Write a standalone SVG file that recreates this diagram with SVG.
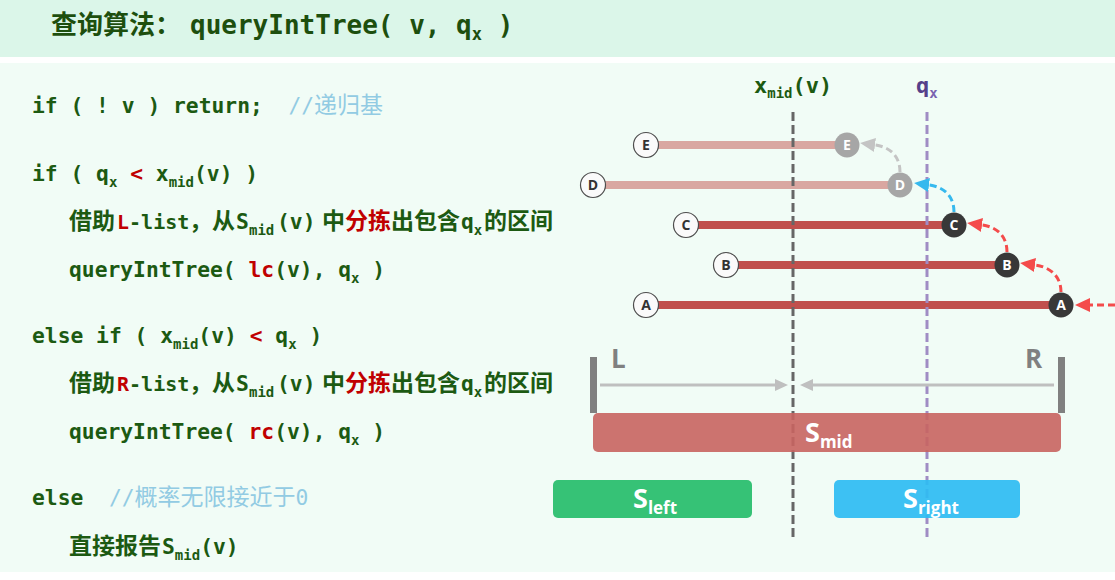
<svg xmlns="http://www.w3.org/2000/svg" width="1115" height="580" viewBox="0 0 1115 580">
<style>
text{white-space:pre}
.title{font-family:"DejaVu Sans Mono","Noto Sans CJK SC",monospace;font-weight:bold;font-size:26px;fill:#1d4f0e}
.cjt{font-family:"Noto Sans CJK SC",sans-serif;font-size:26px}
.tsub{font-size:17px}
.code{font-family:"DejaVu Sans Mono","Noto Sans CJK SC",monospace;font-weight:bold;font-size:21.3px;fill:#1c5a12}
.cj{font-family:"Noto Sans CJK SC",sans-serif;font-size:23px}
.a20{font-size:20px}
.sub{font-size:14px}
.r{fill:#c00000}
.cm{fill:#92cbe3;font-weight:normal}
.lab{font-family:"DejaVu Sans Mono",monospace;font-weight:bold;font-size:22px}
.lc{fill:#fafafa;stroke:#4d4d4d;stroke-width:1.2}
.lt{font-family:"Open Sans","DejaVu Sans",sans-serif;font-weight:bold;font-size:14px;fill:#333;text-anchor:middle}
.rt{font-family:"Open Sans","DejaVu Sans",sans-serif;font-weight:bold;font-size:14px;fill:#fff;text-anchor:middle}
.barL{stroke:#d9a7a1;stroke-width:8}
.barD{stroke:#c0504d;stroke-width:8}
.box{font-family:"Open Sans","DejaVu Sans",sans-serif;font-weight:bold;fill:#fff}
.dash{fill:none;stroke-width:3;stroke-dasharray:7 4}
</style>
<defs>
<marker id="mRed" markerUnits="userSpaceOnUse" markerWidth="16" markerHeight="14" refX="0" refY="7" orient="auto"><path d="M0,0 L15,7 L0,14 z" fill="#f44b4b"/></marker>
<marker id="mBlue" markerUnits="userSpaceOnUse" markerWidth="16" markerHeight="14" refX="0" refY="7" orient="auto"><path d="M0,0 L15,7 L0,14 z" fill="#36b9ee"/></marker>
<marker id="mGrayL" markerUnits="userSpaceOnUse" markerWidth="16" markerHeight="14" refX="0" refY="7" orient="auto"><path d="M0,0 L15,7 L0,14 z" fill="#c4c4c4"/></marker>
<marker id="mG" markerUnits="userSpaceOnUse" markerWidth="14" markerHeight="12" refX="0" refY="6" orient="auto"><path d="M0,0 L13,6 L0,12 z" fill="#bfbfbf"/></marker>
</defs>

<rect x="0" y="0" width="1115" height="580" fill="#ffffff"/>
<rect x="0" y="0" width="1115" height="57" fill="#dbf6e9"/>
<rect x="0" y="63" width="1115" height="509" fill="#f1fcf6"/>

<g id="title">
<text class="title" y="34"><tspan x="51" class="cjt">查询算法：</tspan><tspan x="190">queryIntTree( v, q</tspan><tspan class="tsub" dy="6">x</tspan><tspan dy="-6"> )</tspan></text>
</g>

<g id="code">
<text class="code" x="32" y="113">if ( ! v ) return;  <tspan class="cm">//</tspan><tspan class="cm cj">递归基</tspan></text>
<text class="code" x="32" y="181">if ( q<tspan class="sub" dy="6">x</tspan><tspan dy="-6"> </tspan><tspan class="r">&lt;</tspan> x<tspan class="sub" dy="6">mid</tspan><tspan dy="-6">(v) )</tspan></text>
<text class="code" y="229"><tspan x="69" class="cj">借助</tspan><tspan x="117" class="r a20">L</tspan><tspan class="a20">-list</tspan><tspan x="189" class="cj">，从</tspan><tspan x="236">S</tspan><tspan x="249" class="sub" dy="6">mid</tspan><tspan x="277" dy="-6">(v)</tspan><tspan x="322" class="cj">中</tspan><tspan class="cj r">分拣</tspan><tspan class="cj">出包含</tspan><tspan x="461">q</tspan><tspan class="sub" dy="6">x</tspan><tspan x="484" class="cj" dy="-6">的区间</tspan></text>
<text class="code" x="69" y="277">queryIntTree( <tspan class="r">lc</tspan>(v), q<tspan class="sub" dy="6">x</tspan><tspan dy="-6"> )</tspan></text>
<text class="code" x="32" y="343">else if ( x<tspan class="sub" dy="6">mid</tspan><tspan dy="-6">(v) </tspan><tspan class="r">&lt;</tspan> q<tspan class="sub" dy="6">x</tspan><tspan dy="-6"> )</tspan></text>
<text class="code" y="391"><tspan x="69" class="cj">借助</tspan><tspan x="117" class="r a20">R</tspan><tspan class="a20">-list</tspan><tspan x="189" class="cj">，从</tspan><tspan x="236">S</tspan><tspan x="249" class="sub" dy="6">mid</tspan><tspan x="277" dy="-6">(v)</tspan><tspan x="322" class="cj">中</tspan><tspan class="cj r">分拣</tspan><tspan class="cj">出包含</tspan><tspan x="461">q</tspan><tspan class="sub" dy="6">x</tspan><tspan x="484" class="cj" dy="-6">的区间</tspan></text>
<text class="code" x="69" y="439">queryIntTree( <tspan class="r">rc</tspan>(v), q<tspan class="sub" dy="6">x</tspan><tspan dy="-6"> )</tspan></text>
<text class="code" x="32" y="505">else  <tspan class="cm">//</tspan><tspan class="cm cj">概率无限接近于</tspan><tspan class="cm">0</tspan></text>
<text class="code" y="554"><tspan x="69" class="cj">直接报告</tspan><tspan x="162">S</tspan><tspan class="sub" dy="6">mid</tspan><tspan dy="-6">(v)</tspan></text>
</g>

<g id="labels">
<text class="lab" x="754" y="93" fill="#1c5a12">x<tspan class="sub" dy="5">mid</tspan><tspan dy="-5">(v)</tspan></text>
<text class="lab" x="916" y="93" fill="#55408a">q<tspan class="sub" dy="5" fill="#7a62b0">x</tspan></text>
</g>

<g id="seg-E">
<line class="barL" x1="646" y1="145" x2="847" y2="145"/>
<circle class="lc" cx="646" cy="145" r="12.5"/><text class="lt" x="646" y="150">E</text>
<circle cx="847" cy="145" r="12.5" fill="#a6a6a6"/><text class="rt" x="847" y="150">E</text>
</g>
<g id="seg-D">
<line class="barL" x1="593" y1="185" x2="900" y2="185"/>
<circle class="lc" cx="593" cy="185" r="12.5"/><text class="lt" x="593" y="190">D</text>
<circle cx="900" cy="185" r="12.5" fill="#a6a6a6"/><text class="rt" x="900" y="190">D</text>
</g>
<g id="seg-C">
<line class="barD" x1="686" y1="225" x2="954" y2="225"/>
<circle class="lc" cx="686" cy="225" r="12.5"/><text class="lt" x="686" y="230">C</text>
<circle cx="954" cy="225" r="12.5" fill="#383838"/><text class="rt" x="954" y="230">C</text>
</g>
<g id="seg-B">
<line class="barD" x1="726" y1="265" x2="1007" y2="265"/>
<circle class="lc" cx="726" cy="265" r="12.5"/><text class="lt" x="726" y="270">B</text>
<circle cx="1007" cy="265" r="12.5" fill="#383838"/><text class="rt" x="1007" y="270">B</text>
</g>
<g id="seg-A">
<line class="barD" x1="646" y1="305" x2="1061" y2="305"/>
<circle class="lc" cx="646" cy="305" r="12.5"/><text class="lt" x="646" y="310">A</text>
<circle cx="1061" cy="305" r="12.5" fill="#383838"/><text class="rt" x="1061" y="310">A</text>
</g>

<g id="bracket">
<rect x="590" y="357" width="7" height="56" fill="#808080"/>
<rect x="1058" y="357" width="7" height="56" fill="#808080"/>
<text x="611" y="368" font-family="Open Sans, DejaVu Sans, sans-serif" font-weight="bold" font-size="26" fill="#808080">L</text>
<text x="1025" y="368" font-family="Open Sans, DejaVu Sans, sans-serif" font-weight="bold" font-size="26" fill="#808080">R</text>
</g>

<g id="axes">
<line x1="793" y1="112" x2="793" y2="540" stroke="#666" stroke-width="3" stroke-dasharray="9 4"/>
<line x1="927" y1="112" x2="927" y2="540" stroke="#a08cc4" stroke-width="3" stroke-dasharray="9 4"/>
</g>

<g id="S-mid"><rect x="593" y="413" width="468" height="39" rx="5" fill="#c86461" opacity="0.9"/>
<text class="box" x="805" y="442" font-size="27">S<tspan font-size="17" dy="6">mid</tspan></text></g>
<g id="S-left"><rect x="553" y="480" width="199" height="38" rx="5" fill="#2bbf6f" opacity="0.95"/>
<text class="box" x="633" y="508" font-size="27">S<tspan font-size="17" dy="6">left</tspan></text></g>
<g id="S-right"><rect x="834" y="480" width="186" height="38" rx="5" fill="#2ebcf2" opacity="0.92"/>
<text class="box" x="903" y="508" font-size="27">S<tspan font-size="17" dy="6">right</tspan></text></g>

<g id="connectors">
<path class="dash" stroke="#f44b4b" d="M1115,305 L1090,305" marker-end="url(#mRed)"/>
<path class="dash" stroke="#f44b4b" d="M1061,292 C1061,276 1050,267 1035,265" marker-end="url(#mRed)"/>
<path class="dash" stroke="#f44b4b" d="M1007,252 C1007,236 997,227 982,225" marker-end="url(#mRed)"/>
<path class="dash" stroke="#36b9ee" d="M954,212 C954,196 944,187 929,185" marker-end="url(#mBlue)"/>
<path class="dash" stroke="#c4c4c4" d="M900,172 C900,156 890,147 875,145" marker-end="url(#mGrayL)"/>
<line x1="600" y1="385" x2="775" y2="385" stroke="#bfbfbf" stroke-width="3" marker-end="url(#mG)"/>
<line x1="1054" y1="385" x2="813" y2="385" stroke="#bfbfbf" stroke-width="3" marker-end="url(#mG)"/>
</g>
</svg>
